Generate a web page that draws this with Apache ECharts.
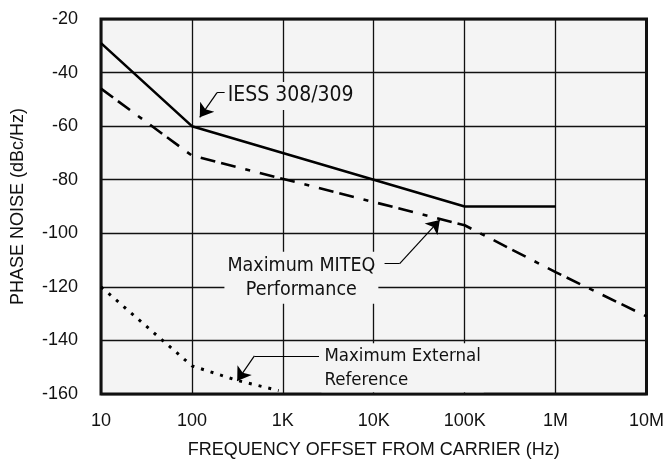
<!DOCTYPE html>
<html>
<head>
<meta charset="utf-8">
<script src="https://cdn.jsdelivr.net/npm/echarts@6/dist/echarts.min.js"></script>
<style>
html,body{margin:0;padding:0;background:#fff;}
#main{width:667px;height:464px;}
</style>
</head>
<body>
<div id="main"></div>
<script>
// frequency offset (Hz) / phase noise (dBc/Hz)
var iessSpec = [[10, -29], [100, -60], [100000, -90], [1000000, -90]];
var miteqMax = [[10, -46], [100, -71], [100000, -97], [1000000, -114.5], [10000000, -131]];
var extRefMax = [[10, -120], [100, -149.5], [320, -155], [900, -158.7]];

var xTickLabels = {10: '10', 100: '100', 1000: '1K', 10000: '10K', 100000: '100K', 1000000: '1M', 10000000: '10M'};

// callout text anchors (data coords)
var notes = [
	{name: 'IESS 308/309', value: [229, -48.7], align: 'left', size: 21, pad: [2, 3]},
	{name: 'Maximum MITEQ\nPerformance', value: [1600, -116.6], align: 'center', size: 19.5, pad: [2, 3]},
	{name: 'Maximum External\nReference', value: [2660, -150.2], align: 'left', size: 18.5, pad: [1, 3, 0, 3]}
];
// leader lines: flat stub, then the arrowed part
var leaderStubs = [
	[[229, -47.5], [189, -47.5]],
	[[13150, -111.3], [19280, -111.3]],
	[[2500, -145.8], [487, -145.8]]
];
var leaderArrows = [
	[[189, -47.5], [122, -56.7]],
	[[19280, -111.3], [53300, -95]],
	[[487, -145.8], [315, -155.1]]
];

var bg = '#f4f4f4';
var noteFont = "'DejaVu Sans Condensed', 'Liberation Sans', sans-serif";

var myChart = echarts.init(document.getElementById('main'));
var option = {
	animation: false,
	textStyle: {fontFamily: "'Liberation Sans', Arial, sans-serif"},
	grid: {
		left: 101, right: 18, top: 19, bottom: 68,
		show: true, backgroundColor: bg, borderColor: '#111', borderWidth: 3
	},
	xAxis: {
		type: 'log', logBase: 10, min: 10, max: 10000000,
		name: 'FREQUENCY OFFSET FROM CARRIER (Hz)',
		nameLocation: 'middle', nameGap: 47,
		nameTextStyle: {fontSize: 18, color: '#111'},
		axisLine: {show: false},
		axisTick: {show: false},
		axisLabel: {
			fontSize: 18, color: '#111', margin: 18,
			formatter: function (v) { return xTickLabels[Math.round(v)] || ''; }
		},
		splitLine: {show: true, lineStyle: {color: '#111', width: 1.3}}
	},
	yAxis: {
		type: 'value', min: -160, max: -20, interval: 20,
		name: 'PHASE NOISE (dBc/Hz)',
		nameLocation: 'middle', nameGap: 74,
		nameTextStyle: {fontSize: 18, color: '#111'},
		axisLine: {show: false},
		axisTick: {show: false},
		axisLabel: {fontSize: 18, color: '#111', margin: 23},
		splitLine: {show: true, lineStyle: {color: '#111', width: 1.3}}
	},
	series: [
		{
			name: 'IESS 308/309', type: 'line', data: iessSpec,
			showSymbol: false, z: 3,
			lineStyle: {color: '#000', width: 2.6}
		},
		{
			name: 'Maximum MITEQ', type: 'line', data: miteqMax,
			showSymbol: false, z: 3,
			lineStyle: {color: '#000', width: 2.6, type: [15, 6, 15, 10, 5, 10]}
		},
		{
			name: 'Maximum External Reference', type: 'line', data: extRefMax,
			showSymbol: false, z: 3,
			lineStyle: {color: '#000', width: 3, type: [3, 7]}
		},
		{
			type: 'scatter', symbolSize: 0, z: 4,
			itemStyle: {opacity: 1},
			data: notes.map(function (n) {
				return {
					name: n.name, value: n.value,
					label: {align: n.align, fontSize: n.size, padding: n.pad}
				};
			}),
			label: {
				show: true, position: 'inside', color: '#111',
				fontFamily: noteFont, lineHeight: 24,
				backgroundColor: bg,
				formatter: '{b}'
			}
		},
		{
			type: 'lines', coordinateSystem: 'cartesian2d', z: 5,
			symbol: ['none', 'none'],
			lineStyle: {color: '#000', width: 1.2, opacity: 1},
			data: leaderStubs.map(function (c) { return {coords: c}; })
		},
		{
			type: 'lines', coordinateSystem: 'cartesian2d', z: 5,
			symbol: ['none', 'arrow'], symbolSize: [9, 13],
			lineStyle: {color: '#000', width: 1.2, opacity: 1},
			data: leaderArrows.map(function (c) { return {coords: c}; })
		}
	]
};
myChart.setOption(option);
</script>
</body>
</html>
